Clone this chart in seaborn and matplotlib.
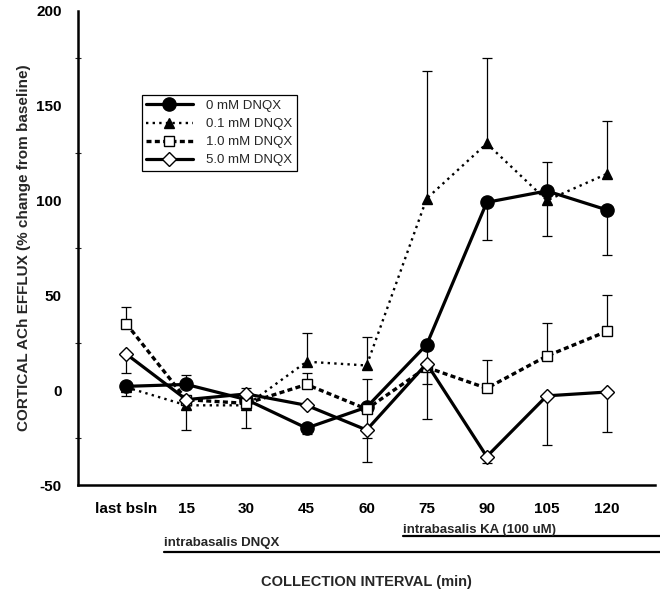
import numpy as np
import pandas as pd
import matplotlib
matplotlib.use('Agg')
import matplotlib.pyplot as plt
import matplotlib.transforms as mtransforms
import seaborn as sns

# collection intervals
labels = ['last bsln', '15', '30', '45', '60', '75', '90', '105', '120']
pos = np.arange(len(labels))

# % change from baseline for each DNQX dose
dnqx_0 = [2, 3, -5, -20, -9, 24, 99, 105, 95]
dnqx_01 = [1.5, -8, -8, 15, 13, 101, 130, 100, 114]
dnqx_1 = [35, -5, -7, 3, -10, 12, 1, 18, 31]
dnqx_5 = [19, -5, -2, -8, -21, 14, -35, -3, -1]

# error bars (only one side of each bar is drawn)
err0_lo = [5, 0, 0, 3, 16, 21, 20, 0, 24]
err0_up = [0, 5, 0, 0, 0, 0, 0, 15, 0]
err01_lo = [0, 13, 12, 0, 0, 0, 0, 19, 0]
err01_up = [0, 0, 0, 15, 15, 67, 45, 0, 28]
err1_lo = [0, 0, 0, 0, 0, 0, 0, 0, 0]
err1_up = [9, 0, 0, 6, 16, 0, 15, 17.5, 19]
err5_lo = [10, 0, 0, 0, 17, 29, 3.5, 26, 21]
err5_up = [0, 0, 3, 0, 0, 0, 0, 0, 0]

series = [
    ('0 mM DNQX', dnqx_0, err0_lo, err0_up, dict(marker='o', markersize=9.5, markerfacecolor='black', linestyle='-', linewidth=2.3)),
    ('0.1 mM DNQX', dnqx_01, err01_lo, err01_up, dict(marker='^', markersize=6.5, markerfacecolor='black', linestyle=(0, (1, 1.8)), linewidth=1.7)),
    ('1.0 mM DNQX', dnqx_1, err1_lo, err1_up, dict(marker='s', markersize=6.5, markerfacecolor='white', linestyle=(0, (1.5, 1.0)), linewidth=2.4)),
    ('5.0 mM DNQX', dnqx_5, err5_lo, err5_up, dict(marker='D', markersize=7, markerfacecolor='white', linestyle='-', linewidth=2.3)),
]

sns.set_style('white')
plt.rcParams['font.family'] = ['Liberation Sans', 'DejaVu Sans']

fig = plt.figure(figsize=(6.6, 5.94), dpi=100)
ax = fig.add_axes([0.1186, 0.1835, 0.8738, 0.7985])

# error bars first, so markers sit on top
for name, vals, lo, up, st in series:
    vals = np.array(vals, dtype=float)
    lo = np.array(lo, dtype=float)
    up = np.array(up, dtype=float)
    for err, keep in ((lo, 0), (up, 1)):
        m = err > 0
        if not m.any():
            continue
        yerr = [err[m], np.zeros(m.sum())] if keep == 0 else [np.zeros(m.sum()), err[m]]
        _, caps, _ = ax.errorbar(pos[m], vals[m], yerr=yerr, fmt='none', ecolor='black',
                                 elinewidth=0.9, capsize=3.3, capthick=0.9, zorder=1)
        caps[1 - keep].set_visible(False)

for name, vals, lo, up, st in series:
    df = pd.DataFrame({'pos': pos, 'val': vals})
    sns.lineplot(data=df, x='pos', y='val', color='black', markeredgecolor='black',
                 markeredgewidth=1.0, errorbar=None, label=name, ax=ax, zorder=3, **st)

ax.set_xlim(-0.8, 8.8)
ax.set_ylim(-50, 200)
ax.set_xticks(pos)
ax.set_xticklabels(labels, fontsize=11, fontweight='bold')
ax.set_yticks([-50, 0, 50, 100, 150, 200])
ax.set_yticks(np.arange(-25, 200, 50), minor=True)
ax.set_yticklabels(['-50', '0', '50', '100', '150', '200'], fontsize=11, fontweight='bold')
ax.tick_params(axis='both', which='major', direction='inout', length=6, width=1.1, pad=9, colors='black')
ax.tick_params(axis='y', which='minor', direction='inout', length=4, width=0.8, left=True)

for s in ['top', 'right']:
    ax.spines[s].set_visible(False)
for s in ['left', 'bottom']:
    ax.spines[s].set_linewidth(1.8)
    ax.spines[s].set_color('black')

ax.set_xlabel('COLLECTION INTERVAL (min)', fontsize=10.5, fontweight='bold')
ax.xaxis.set_label_coords(0.5, -0.19)
ax.set_ylabel('CORTICAL ACh EFFLUX (% change from baseline)', fontsize=11, fontweight='bold')
ax.yaxis.set_label_coords(-0.082, 0.5)

# treatment bars below the axis
tr = mtransforms.blended_transform_factory(ax.transData, ax.transAxes)
ax.text(4.6, -0.094, 'intrabasalis KA (100 uM)', transform=tr, fontsize=9.5,
        fontweight='bold', ha='left', va='center')
ax.plot([4.6, 8.9], [-0.108, -0.108], transform=tr, color='black', lw=1.6, clip_on=False)
ax.text(0.62, -0.122, 'intrabasalis DNQX', transform=tr, fontsize=9.5,
        fontweight='bold', ha='left', va='center')
ax.plot([0.62, 8.9], [-0.141, -0.141], transform=tr, color='black', lw=1.6, clip_on=False)

leg = ax.legend(loc='upper left', bbox_to_anchor=(0.110, 0.822), borderaxespad=0,
                frameon=True, fancybox=False, framealpha=1, edgecolor='black',
                fontsize=9.5, handlelength=3.5, handletextpad=1.0, labelspacing=0.45,
                borderpad=0.35)
leg.get_frame().set_linewidth(0.9)

fig.savefig('out.png', dpi=100)
